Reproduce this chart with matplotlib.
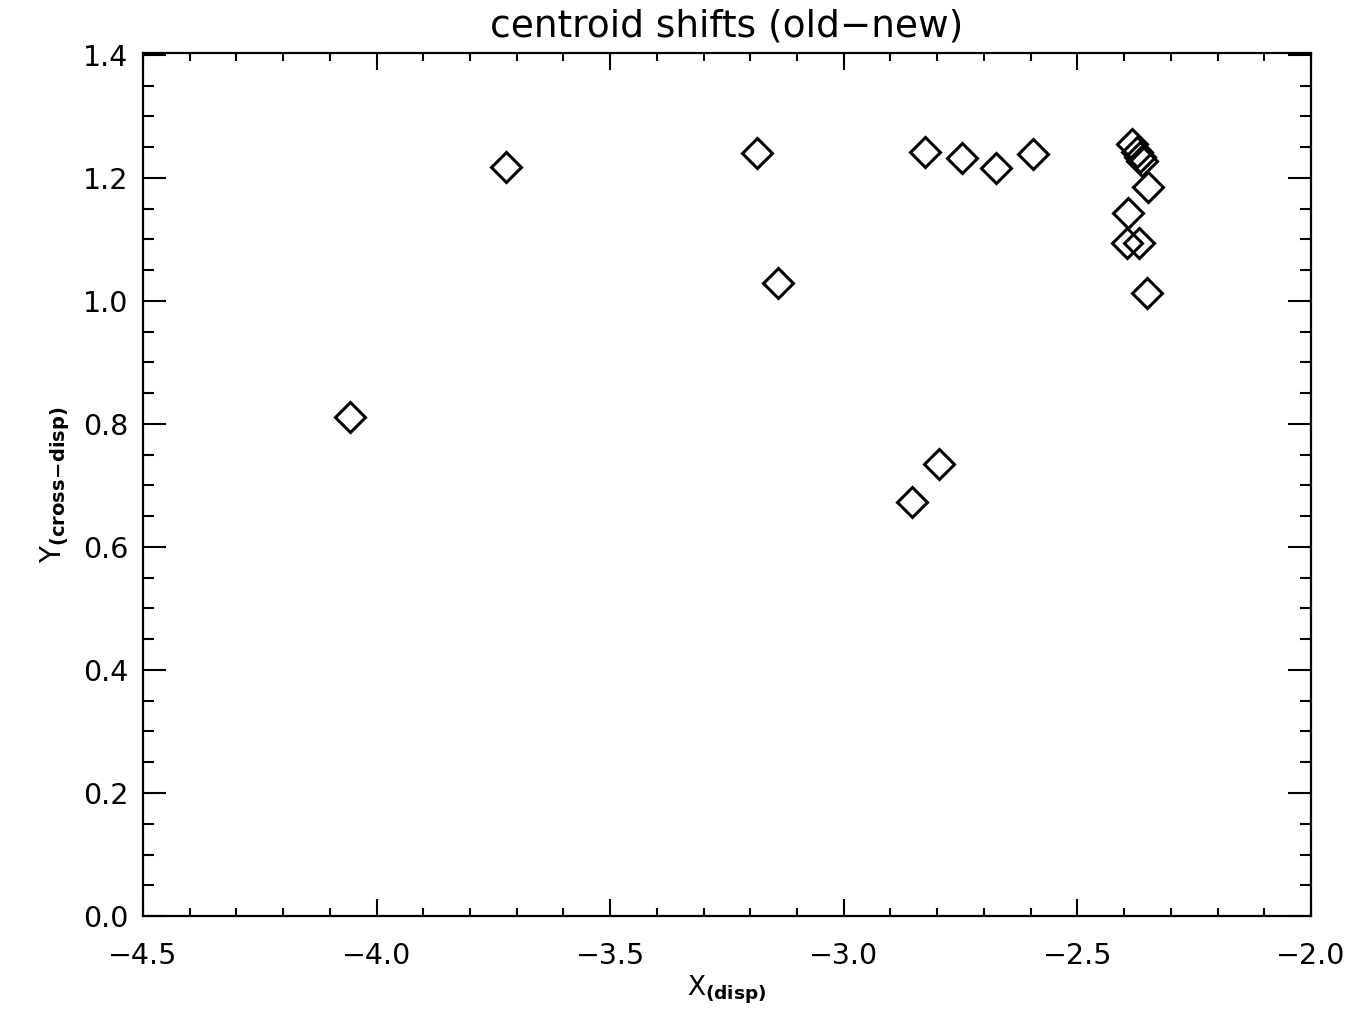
import numpy as np
import matplotlib.pyplot as plt
from matplotlib.ticker import MultipleLocator

plt.rcParams['font.family'] = ['DejaVu Sans']
plt.rcParams['mathtext.fontset'] = 'custom'
plt.rcParams['mathtext.rm'] = 'DejaVu Sans'
plt.rcParams['mathtext.bf'] = 'DejaVu Sans:bold'

# centroid shifts (old - new)
x_disp = [-4.056, -3.723, -3.185, -3.141, -2.827, -2.746, -2.674, -2.596,
          -2.854, -2.797, -2.383, -2.372, -2.365, -2.361, -2.349, -2.391,
          -2.394, -2.368, -2.351]
y_cross = [0.811, 1.218, 1.241, 1.029, 1.242, 1.232, 1.216, 1.239,
           0.673, 0.735, 1.255, 1.242, 1.234, 1.228, 1.185, 1.143,
           1.094, 1.094, 1.013]

fig = plt.figure(figsize=(13.71, 10.25), dpi=100)
ax = fig.add_axes([0.1043, 0.1063, 0.8519, 0.842])

ax.plot(x_disp, y_cross, linestyle='none', marker='D', markersize=15,
        markerfacecolor='none', markeredgecolor='black', markeredgewidth=2.2)

ax.set_xlim(-4.5, -2.0)
ax.set_ylim(0.0, 1.403)
ax.xaxis.set_major_locator(MultipleLocator(0.5))
ax.xaxis.set_minor_locator(MultipleLocator(0.1))
ax.yaxis.set_major_locator(MultipleLocator(0.2))
ax.yaxis.set_minor_locator(MultipleLocator(0.05))
ax.xaxis.set_major_formatter(plt.FuncFormatter(lambda v, p: f'{v:.1f}'.replace('-', '\u2212')))
ax.yaxis.set_major_formatter(plt.FuncFormatter(lambda v, p: f'{v:.1f}'))

for s in ax.spines.values():
    s.set_linewidth(1.6)
ax.tick_params(which='both', direction='in', top=True, right=True, width=1.5, labelsize=20.5)
# IDL style: x ticks shorter than y ticks
ax.tick_params(axis='x', which='major', length=12.5, pad=19)
ax.tick_params(axis='x', which='minor', length=6)
ax.tick_params(axis='y', which='major', length=16.5, pad=10.5)
ax.tick_params(axis='y', which='minor', length=8)

ax.set_title('centroid shifts (old\u2212new)', fontsize=27, pad=12)
ax.set_xlabel(r'X$_{\mathbf{(disp)}}$', fontsize=19, labelpad=2)
ax.set_ylabel(r'Y$_{\mathbf{(cross\!-\!disp)}}$', fontsize=20, labelpad=8)

fig.savefig('out.png', dpi=100)
